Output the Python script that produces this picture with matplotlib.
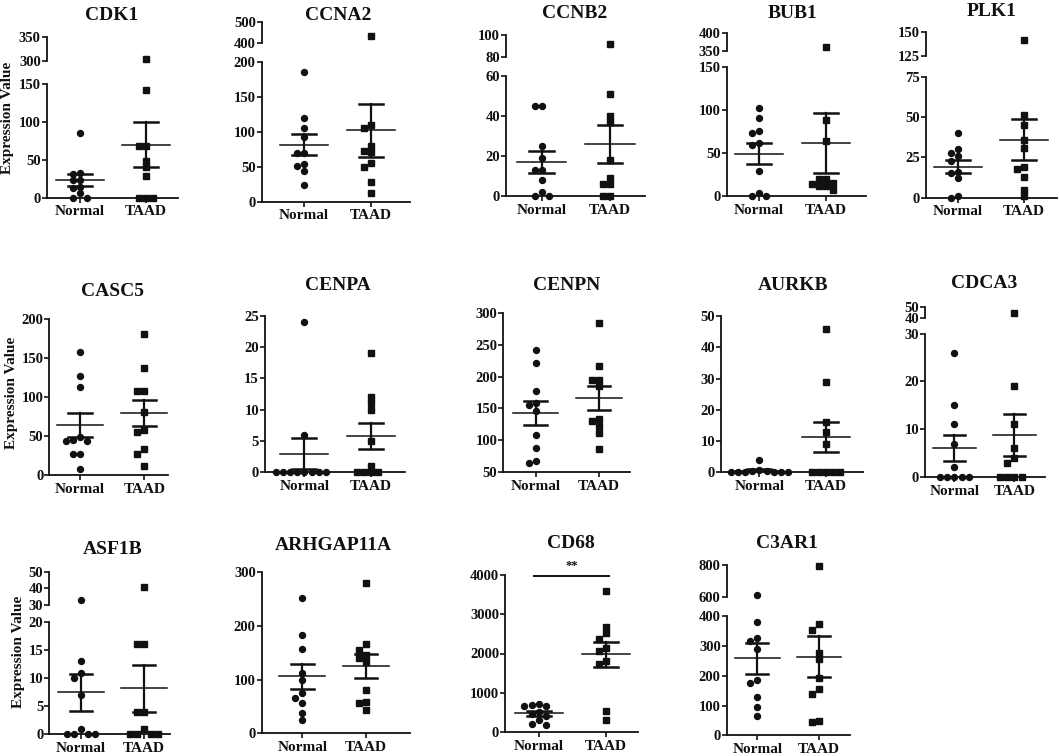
import numpy as np
import matplotlib
matplotlib.use("Agg")
import matplotlib.pyplot as plt

plt.rcParams['font.family'] = ['Liberation Serif', 'DejaVu Serif']
plt.rcParams['font.weight'] = 'bold'

W, H = 1059, 756
INK = '#111111'

groups = ['Normal', 'TAAD']
genes = ['CDK1', 'CCNA2', 'CCNB2', 'BUB1', 'PLK1',
         'CASC5', 'CENPA', 'CENPN', 'AURKB', 'CDCA3',
         'ASF1B', 'ARHGAP11A', 'CD68', 'C3AR1']

# expression values (10 samples per group)
cdk1_normal = [86, 33, 32, 24, 23, 14, 13, 6, 0, 0]
cdk1_taad = [305, 143, 69, 68, 48, 40, 29, 0, 0, 0]
ccna2_normal = [186, 119, 105, 92, 70, 69, 54, 51, 44, 24]
ccna2_taad = [435, 110, 105, 80, 72, 71, 56, 50, 28, 13]
ccnb2_normal = [45, 45, 25, 19, 13, 13, 8, 2, 0, 0]
ccnb2_taad = [92, 51, 40, 37, 18, 9, 6, 6, 0, 0]
bub1_normal = [102, 90, 75, 73, 61, 59, 29, 3, 0, 0]
bub1_taad = [362, 88, 64, 20, 20, 15, 14, 12, 12, 7]
plk1_normal = [40, 30, 28, 26, 23, 16, 15, 12, 1, 0]
plk1_taad = [141, 51, 45, 36, 31, 19, 18, 13, 5, 1]
casc5_normal = [158, 127, 112, 49, 45, 44, 43, 27, 27, 8]
casc5_taad = [180, 137, 107, 107, 80, 57, 55, 33, 27, 11]
cenpa_normal = [24, 6, 0, 0, 0, 0, 0, 0, 0, 0]
cenpa_taad = [19, 12, 11, 10, 5, 1, 0, 0, 0, 0]
cenpn_normal = [241, 221, 178, 159, 156, 146, 108, 88, 68, 65]
cenpn_taad = [284, 217, 195, 195, 185, 134, 131, 123, 112, 86]
aurkb_normal = [4, 0.6, 0.4, 0.3, 0.2, 0.1, 0.1, 0, 0, 0]
aurkb_taad = [46, 29, 16, 13, 9, 0, 0, 0, 0, 0]
cdca3_normal = [26, 15, 11, 7, 2, 0, 0, 0, 0, 0]
cdca3_taad = [45, 19, 11, 6, 4, 3, 0, 0, 0, 0]
asf1b_normal = [33, 13, 11, 10, 7, 1, 0, 0, 0, 0]
asf1b_taad = [41, 16, 16, 4, 4, 1, 0, 0, 0, 0]
arhgap11a_normal = [253, 183, 158, 112, 99, 75, 65, 56, 37, 24]
arhgap11a_taad = [280, 166, 155, 146, 141, 132, 81, 59, 57, 44]
cd68_normal = [720, 690, 680, 670, 520, 470, 410, 310, 220, 180]
cd68_taad = [3590, 2670, 2510, 2380, 2150, 2060, 1810, 1730, 540, 320]
c3ar1_normal = [613, 381, 328, 318, 290, 186, 177, 130, 96, 66]
c3ar1_taad = [796, 373, 354, 278, 255, 191, 154, 139, 49, 46]

normal_vals = [cdk1_normal, ccna2_normal, ccnb2_normal, bub1_normal, plk1_normal,
               casc5_normal, cenpa_normal, cenpn_normal, aurkb_normal, cdca3_normal,
               asf1b_normal, arhgap11a_normal, cd68_normal, c3ar1_normal]
taad_vals = [cdk1_taad, ccna2_taad, ccnb2_taad, bub1_taad, plk1_taad,
             casc5_taad, cenpa_taad, cenpn_taad, aurkb_taad, cdca3_taad,
             asf1b_taad, arhgap11a_taad, cd68_taad, c3ar1_taad]

# y tick values: lower segment, and upper segment of the broken axes
lower_ticks = [[0, 50, 100, 150], [0, 50, 100, 150, 200], [0, 20, 40, 60],
               [0, 50, 100, 150], [0, 25, 50, 75],
               [0, 50, 100, 150, 200], [0, 5, 10, 15, 20, 25],
               [50, 100, 150, 200, 250, 300], [0, 10, 20, 30, 40, 50], [0, 10, 20, 30],
               [0, 5, 10, 15, 20], [0, 100, 200, 300], [0, 1000, 2000, 3000, 4000],
               [0, 100, 200, 300, 400]]
upper_ticks = [[300, 350], [400, 500], [80, 100], [350, 400], [125, 150],
               None, None, None, None, [40, 50],
               [30, 40, 50], None, None, [600, 800]]

# panel geometry in pixels: left, right, x of Normal, x of TAAD,
# lower (bottom, top), upper (bottom, top), title (x, y)
boxes = [(46.7, 178, 80, 146, (197.7, 84.3), (61, 37.3), (111.7, 15)),
         (261.7, 410, 304, 371, (201.7, 61.7), (43.3, 21.7), (338, 15)),
         (506, 645, 541.7, 610, (196, 75.7), (56.7, 35), (575, 13)),
         (726.7, 866, 759, 826, (196, 66.7), (51, 32.7), (793, 13)),
         (926, 1056.7, 958, 1024, (197.7, 76.7), (56, 31.7), (992, 12)),
         (49.3, 168, 80, 144.3, (475, 318.7), None, (112.7, 291)),
         (265, 405, 304.3, 371, (472.3, 315.7), None, (338, 285)),
         (503.3, 630, 535.7, 599, (472.3, 312.7), None, (566.7, 285)),
         (721, 863, 759.3, 826, (472.3, 316), None, (792.7, 285)),
         (925, 1045, 954.3, 1014.3, (477, 333.7), (318.3, 306.7), (984, 283)),
         (49.3, 170, 81, 144, (734.3, 622), (604.7, 571.7), (112.7, 549)),
         (261.7, 410, 302.3, 366, (733.3, 572.3), None, (333, 545)),
         (505, 638, 538.7, 605.7, (732.3, 574.7), None, (570.7, 544)),
         (726.7, 850, 757.3, 819, (735.3, 616.3), (596.7, 565.3), (787, 543))]
ylabel_pos = [(8, 118), (12, 393), (19, 652)]


def make_axes(fig, left, right, bottom, top):
    return fig.add_axes([left / W, 1 - bottom / H, (right - left) / W, (bottom - top) / H])


def style(ax, ticks, xaxis):
    for s in ['top', 'right']:
        ax.spines[s].set_visible(False)
    for s in ['left', 'bottom']:
        ax.spines[s].set_linewidth(1.3)
        ax.spines[s].set_color(INK)
    ax.set_yticks(ticks)
    ax.set_ylim(ticks[0], ticks[-1])
    ax.tick_params(axis='y', direction='out', length=3.5, width=1.2, pad=0.8,
                   labelsize=10.5, colors=INK)
    if xaxis:
        ax.set_xticks([1, 2])
        ax.set_xticklabels(groups)
        ax.tick_params(axis='x', direction='out', length=3.5, width=1.2, pad=2,
                       labelsize=11, colors=INK)
    else:
        ax.spines['bottom'].set_visible(False)
        ax.set_xticks([])
    ax.patch.set_alpha(0)


def swarm(vals, pick_ax, step=7.2, tol=6.0):
    # lay out equal-ish values side by side, like a scatter dot plot
    placed = []
    offs = np.zeros(len(vals))
    for i in np.argsort(-np.asarray(vals, dtype=float), kind='stable'):
        y = pick_ax(vals[i]).transData.transform((1, vals[i]))[1]
        dx = 0.0
        for k in [0, -1, 1, -2, 2, -3, 3, -4, 4, -5, 5]:
            dx = k * step
            if all(abs(dx - px) > step * 0.9 or abs(y - py) > tol for px, py in placed):
                break
        placed.append((dx, y))
        offs[i] = dx
    return offs


fig = plt.figure(figsize=(W / 100, H / 100), dpi=100)

for idx, gene in enumerate(genes):
    left, right, xn, xt, (lb, lt), up, (tx, ty) = boxes[idx]
    sp = xt - xn
    xlim = (1 + (left - xn) / sp, 1 + (right - xn) / sp)

    ax = make_axes(fig, left, right, lb, lt)
    style(ax, lower_ticks[idx], True)
    ax.set_xlim(*xlim)
    ax_up = None
    if up is not None:
        ax_up = make_axes(fig, left, right, up[0], up[1])
        style(ax_up, upper_ticks[idx], False)
        ax_up.set_xlim(*xlim)
    top_lower = lower_ticks[idx][-1]

    def pick_ax(v):
        return ax_up if (ax_up is not None and v > top_lower) else ax

    for g, (vals, marker, ms) in enumerate([(normal_vals[idx], 'o', 4.3),
                                            (taad_vals[idx], 's', 4.0)], start=1):
        vals = np.asarray(vals, dtype=float)
        px_per_unit = ax.transData.transform((2, 0))[0] - ax.transData.transform((1, 0))[0]
        offs = swarm(vals, pick_ax) / px_per_unit
        for v, o in zip(vals, offs):
            pick_ax(v).plot(g + o, v, marker=marker, ms=ms, color=INK, mec=INK,
                            linestyle='none', clip_on=False, zorder=2)
        mean = vals.mean()
        sem = vals.std(ddof=1) / np.sqrt(len(vals))
        ax.plot([g - 0.36, g + 0.36], [mean, mean], color=INK, lw=1.1, zorder=3)
        ax.plot([g, g], [mean - sem, mean + sem], color=INK, lw=1.6, zorder=3)
        for yc in (mean - sem, mean + sem):
            ax.plot([g - 0.18, g + 0.18], [yc, yc], color=INK, lw=1.8, zorder=3)

    fig.text(tx / W, 1 - ty / H, gene, ha='center', va='center', fontsize=14,
             fontweight='bold', color=INK)

    if gene == 'CD68':
        ax.plot([0.93, 2.05], [3960, 3960], color=INK, lw=1.4, clip_on=False)
        ax.text(1.49, 4060, '**', ha='center', va='bottom', fontsize=9, color=INK)

for x, y in ylabel_pos:
    fig.text(x / W, 1 - y / H, 'Expression Value', rotation=90, ha='center',
             va='center', fontsize=11, fontweight='bold', color=INK)

fig.savefig('out.png', dpi=100)
